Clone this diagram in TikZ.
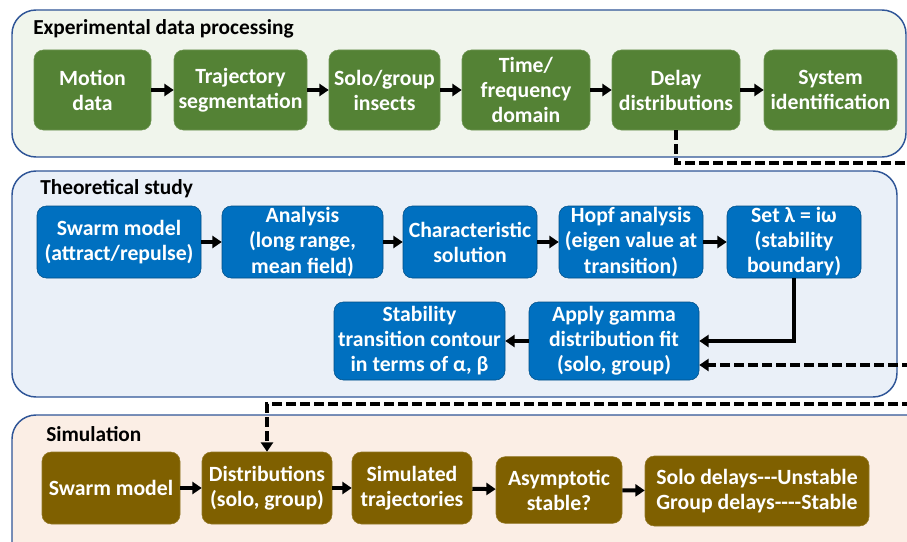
\documentclass[tikz,border=0pt]{standalone}
\usepackage{fontspec}
\setmainfont{Carlito}
\usetikzlibrary{arrows.meta, positioning}

\definecolor{expgreen}{RGB}{84,130,53}
\definecolor{theoblue}{RGB}{0,112,192}
\definecolor{simbrown}{RGB}{127,96,0}
\definecolor{expbg}{RGB}{240,245,236}
\definecolor{theobg}{RGB}{234,240,248}
\definecolor{simbg}{RGB}{251,238,229}
\definecolor{panelline}{RGB}{47,85,151}

\newcommand{\hyph}{\mbox{-}}

\begin{document}
\begin{tikzpicture}[
    x=0.75pt, y=-0.75pt,
    font=\bfseries\fontsize{16.3}{18.8}\selectfont,
    % Node styles
    panel/.style={draw=panelline, line width=1.1pt, rounded corners=18pt},
    title/.style={anchor=west, inner sep=0pt, font=\bfseries\fontsize{16}{19}\selectfont},
    stepbox/.style={rectangle, rounded corners=7pt, text=white, align=center, inner sep=0pt},
    expbox/.style={stepbox, fill=expgreen, draw=expgreen!85!white, minimum height=60pt},
    theobox/.style={stepbox, fill=theoblue, draw=theoblue!70!black, minimum height=54pt},
    simbox/.style={stepbox, fill=simbrown, draw=simbrown!85!white, minimum height=54pt},
    arrow/.style={-{Triangle[length=7pt, width=9pt]}, line width=3pt},
    dashline/.style={line width=3pt, dash pattern=on 7.5pt off 3pt},
]
\useasboundingbox (0,0) rectangle (907,542);
\clip (0,0) rectangle (907,542);

% ============================================================================
% EXPERIMENTAL DATA PROCESSING
% ============================================================================
\draw[panel, fill=expbg] (12,10) rectangle (906,157);
\node[title] (exptitle) at (33,29) {Experimental data processing};

\node[expbox, minimum width=87.75pt] (motion) at (92.5,90) {Motion\\data};
\node[expbox, minimum width=99.75pt] (traj) at (240.5,90) {Trajectory\\segmentation};
\node[expbox, minimum width=83.25pt] (solo) at (384.5,90) {Solo/group\\insects};
\node[expbox, minimum width=96pt] (timef) at (526,90) {Time/\\frequency\\domain};
\node[expbox, minimum width=96pt] (delay) at (676,90) {Delay\\distributions};
\node[expbox, minimum width=99.75pt] (sysid) at (830.5,90) {System\\identification};

\foreach \a/\b in {motion/traj, traj/solo, solo/timef, timef/delay, delay/sysid} {
    \draw[arrow] (\a) -- (\b);
}

% ============================================================================
% THEORETICAL STUDY
% ============================================================================
\draw[panel, fill=theobg] (12,171) rectangle (897,397);
\node[title] (theotitle) at (40,189) {Theoretical study};

\node[theobox, minimum width=123pt] (swarm) at (119,242) {Swarm model\\(attract/repulse)};
\node[theobox, minimum width=120.75pt] (analysis) at (302.5,242) {Analysis\\(long range,\\mean field)};
\node[theobox, minimum width=100.5pt] (charsol) at (470,242) {Characteristic\\solution};
\node[theobox, minimum width=108pt] (hopf) at (631,242) {Hopf analysis\\(eigen value at\\transition)};
\node[theobox, minimum width=100.5pt] (setl) at (794,242) {Set λ = iω\\(stability\\boundary)};

\node[theobox, minimum width=128.25pt, minimum height=58.5pt] (contour) at (419.5,341) {Stability\\transition contour\\in terms of α, β};
\node[theobox, minimum width=127.5pt, minimum height=58.5pt] (gamma) at (614,341) {Apply gamma\\distribution fit\\(solo, group)};

\foreach \a/\b in {swarm/analysis, analysis/charsol, charsol/hopf, hopf/setl} {
    \draw[arrow] (\a) -- (\b);
}
\draw[arrow] (setl.south) |- (gamma.east);
\draw[arrow] (gamma) -- (contour);

% ============================================================================
% SIMULATION
% ============================================================================
\draw[panel, fill=simbg] (12,415) rectangle (940,570);
\node[title] (simtitle) at (46,434) {Simulation};

\node[simbox, minimum width=103.5pt] (simswarm) at (111,488) {Swarm model};
\node[simbox, minimum width=97.5pt] (dist) at (267,488) {Distributions\\(solo, group)};
\node[simbox, minimum width=90pt] (simtraj) at (412,488) {Simulated\\trajectories};
\node[simbox, minimum width=94.5pt, minimum height=50pt] (asym) at (559,490) {Asymptotic\\stable?};
\node[simbox, minimum width=168pt, minimum height=52.5pt] (verdict) at (757,491)
    {Solo delays\hyph\hyph\hyph Unstable\\Group delays\hyph\hyph\hyph\hyph Stable};

\foreach \a/\b in {simswarm/dist, dist/simtraj, simtraj/asym, asym/verdict} {
    \draw[arrow] (\a) -- (\b);
}

% Dashed links leaving the right edge
\coordinate (edge1) at (912,163);
\coordinate (edge2) at (912,365);
\coordinate (edge3) at (912,404);
\draw[dashline] (delay.south) |- (edge1);
\draw[dashline, arrow] (edge2) -- (gamma.east |- edge2);
\draw[dashline, arrow] (edge3) -| (dist.north);

\end{tikzpicture}
\end{document}
